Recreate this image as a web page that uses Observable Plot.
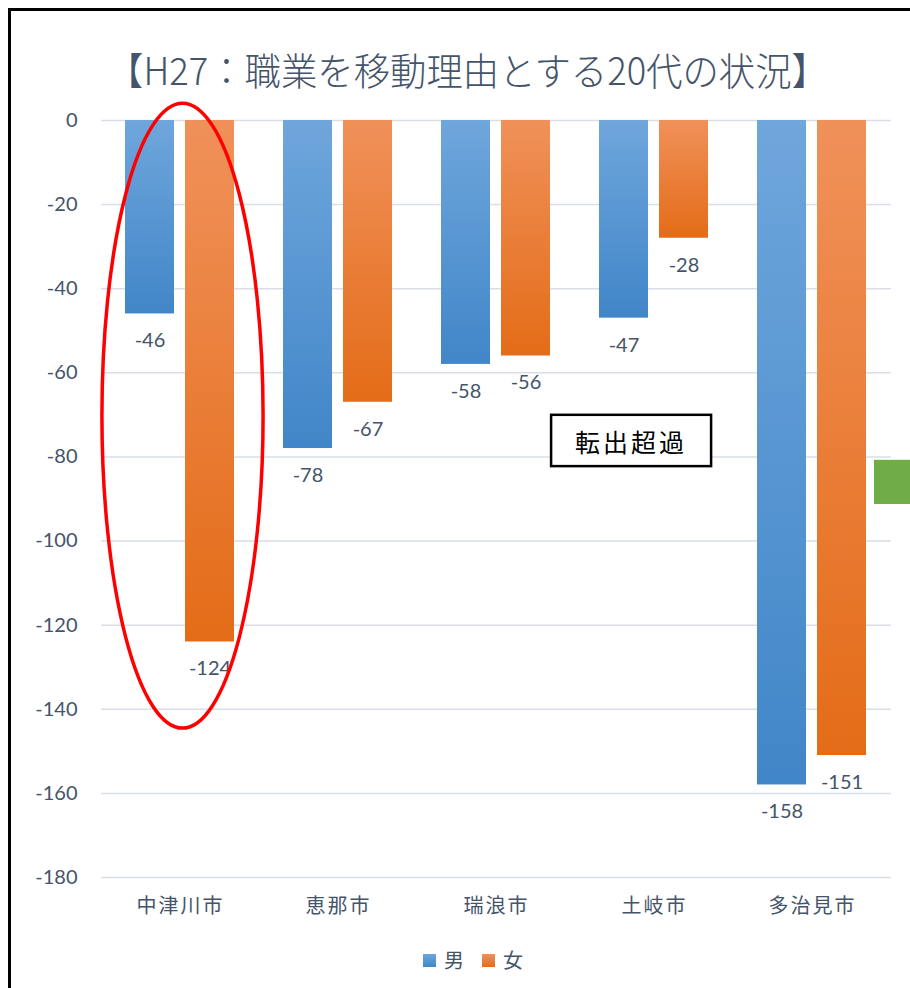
<!DOCTYPE html>
<html><head><meta charset="utf-8">
<script src="https://cdn.jsdelivr.net/npm/d3@7"></script>
<script src="https://cdn.jsdelivr.net/npm/@observablehq/plot@0.6"></script>
<style>
body{margin:0;background:#fff;}
#wrap{position:relative;width:910px;height:988px;overflow:hidden;background:#fff;font-family:Lato,"Noto Sans CJK JP",sans-serif;}
#frame{position:absolute;left:8px;top:8px;width:920px;height:1000px;border-left:3px solid #000;border-top:3px solid #000;box-sizing:border-box;pointer-events:none;}
#title{position:absolute;left:0;top:0;}
#chart{position:absolute;left:0;top:95px;}
#legend{position:absolute;top:950px;left:423px;display:flex;align-items:center;font-family:"Noto Sans CJK JP",sans-serif;font-size:20px;color:#44546a;}
#legend .sw{width:13px;height:13px;display:inline-block;margin-right:8px;}
#legend .it{display:flex;align-items:center;margin-right:18px;line-height:1;}
g[aria-label^="fx-axis"] text{letter-spacing:2px;font-family:"Noto Sans CJK JP",sans-serif;}
</style></head>
<body>
<div id="wrap">
  <svg id="title" width="910" height="100">
    <text x="107" y="85" textLength="721" lengthAdjust="spacingAndGlyphs" font-family="'Noto Sans CJK JP',sans-serif" font-weight="300" font-size="38" fill="#44546a">【H27：職業を移動理由とする20代の状況】</text>
  </svg>
  <div id="chart"></div>
  <div id="legend">
    <span class="it"><span class="sw" style="background:linear-gradient(#6fa6dc,#4186c8)"></span>男</span>
    <span class="it"><span class="sw" style="background:linear-gradient(#f0915a,#e46c18)"></span>女</span>
  </div>
  <div id="frame"></div>
</div>
<script>
const cities = ["中津川市", "恵那市", "瑞浪市", "土岐市", "多治見市"];
const sexes = ["男", "女"];
const male = [-46, -78, -58, -47, -158];
const female = [-124, -67, -56, -28, -151];
const yTicks = [0, -20, -40, -60, -80, -100, -120, -140, -160, -180];
const boxLabel = "転出超過";

const rows = cities.flatMap((c, i) => [
  {city: c, sex: "男", value: male[i]},
  {city: c, sex: "女", value: female[i]}
]);

const chart = Plot.plot({
  width: 910,
  height: 840,
  marginTop: 25,
  marginBottom: 58,
  marginLeft: 99,
  marginRight: 17,
  style: {fontSize: "20px", fontFamily: "Lato, 'Noto Sans CJK JP', sans-serif", color: "#44546a", background: "transparent"},
  fx: {domain: cities, padding: 0, label: null, axis: "bottom", tickSize: 0, tickPadding: 21},
  x: {domain: sexes, paddingInner: 0.18, paddingOuter: 0.39, axis: null},
  y: {domain: [-180, 0], ticks: yTicks, tickSize: 0, tickPadding: 24, label: null, tickFormat: d => String(d)},
  color: {domain: sexes, range: ["url(#gradM)", "url(#gradF)"]},
  marks: [
    Plot.ruleY(yTicks, {stroke: "#d9dee8", strokeWidth: 1.5}),
    Plot.barY(rows, {fx: "city", x: "sex", y: "value", fill: "sex"}),
    Plot.text(rows, {fx: "city", x: "sex", y: "value", text: d => String(d.value), dy: 27, fill: "#44546a", fontSize: 20})
  ]
});

const ns = "http://www.w3.org/2000/svg";
function el(name, attrs, parent) {
  const e = document.createElementNS(ns, name);
  for (const k in attrs) e.setAttribute(k, attrs[k]);
  if (parent) parent.appendChild(e);
  return e;
}
const defs = el("defs", {});
chart.insertBefore(defs, chart.firstChild);
[["gradM", "#6fa6dc", "#4186c8"], ["gradF", "#f0915a", "#e46c18"]].forEach(([id, a, b]) => {
  const g = el("linearGradient", {id, x1: 0, y1: 0, x2: 0, y2: 1}, defs);
  el("stop", {offset: "0", "stop-color": a}, g);
  el("stop", {offset: "1", "stop-color": b}, g);
});

const fx = chart.scale("fx");
const y = chart.scale("y");
const bw = fx.bandwidth;
// red ellipse around 中津川市
const ex = fx.apply("中津川市") + bw / 2 + 2.5;
const eTop = y.apply(4), eBot = y.apply(-144.6);
el("ellipse", {cx: ex, cy: (eTop + eBot) / 2, rx: bw * 0.51, ry: (eBot - eTop) / 2, fill: "none", stroke: "#ff0000", "stroke-width": 3.5}, chart);
// 転出超過 box
const bx = fx.apply("土岐市") + bw * 0.355;
const b1 = y.apply(-70.1), b2 = y.apply(-82.3);
el("rect", {x: bx - 80, y: b1, width: 160, height: b2 - b1, fill: "#fff", stroke: "#000", "stroke-width": 2.5}, chart);
const t = el("text", {x: bx, y: (b1 + b2) / 2 + 1, "text-anchor": "middle", "dominant-baseline": "central", "font-size": 25, "font-family": "'Noto Sans CJK JP', sans-serif", fill: "#000", "letter-spacing": "3"}, chart);
t.textContent = boxLabel;
// green shape at right edge
const g1 = y.apply(-80.8), g2 = y.apply(-91.3);
el("rect", {x: 874, y: g1, width: 40, height: g2 - g1, fill: "#70ad47"}, chart);

document.getElementById("chart").appendChild(chart);
</script>
</body></html>
